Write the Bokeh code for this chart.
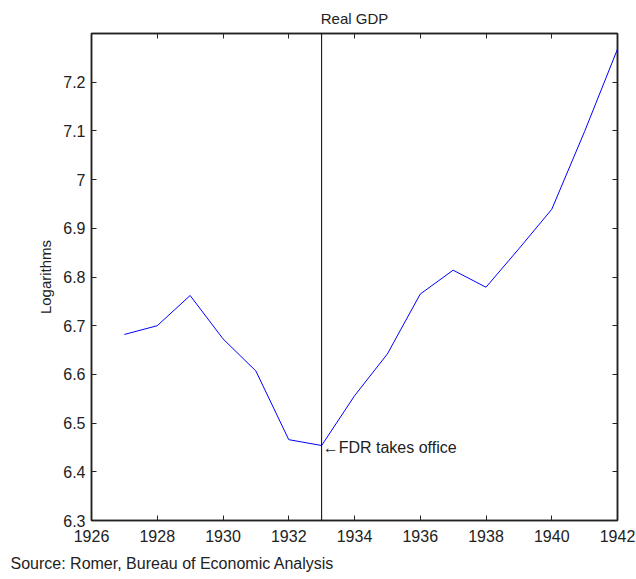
from bokeh.plotting import figure
from bokeh.models import Span, Label, Title, FixedTicker, LinearAxis, Range1d, CustomJSTickFormatter
from bokeh.embed import file_html
from bokeh.resources import INLINE

# Data
years = [1927, 1928, 1929, 1930, 1931, 1932, 1933, 1934, 1935, 1936, 1937, 1938, 1939, 1940, 1941, 1942]
log_gdp = [6.682, 6.700, 6.762, 6.673, 6.607, 6.466, 6.454, 6.556, 6.642, 6.765, 6.814, 6.779, 6.858, 6.939, 7.099, 7.268]
x_ticks = [1926, 1928, 1930, 1932, 1934, 1936, 1938, 1940, 1942]
y_ticks = [6.3, 6.4, 6.5, 6.6, 6.7, 6.8, 6.9, 7.0, 7.1, 7.2]
event_year = 1933
event_value = 6.454
event_text = "\u2190FDR takes office"
title_text = "Real GDP"
y_label = "Logarithms"
source_text = "Source: Romer, Bureau of Economic Analysis"

FONT = "Liberation Sans"
INK = "#222222"

p = figure(width=636, height=579, output_backend="svg", toolbar_location=None,
           x_range=Range1d(1926, 1942), y_range=Range1d(6.3, 7.3),
           min_border_left=91, min_border_right=19, min_border_top=33, min_border_bottom=59)

p.title.text = title_text
p.title.align = "center"
p.title.vertical_align = "top"
p.title.text_font = FONT
p.title.text_font_size = "15px"
p.title.text_font_style = "normal"
p.title.text_color = INK
p.title.standoff = 10

p.line(years, log_gdp, line_color="#0000FF", line_width=1)

p.add_layout(Span(location=event_year, dimension="height", line_color="black", line_width=1))
p.add_layout(Label(x=event_year, y=event_value, text=event_text, text_font=FONT, text_font_size="16px",
                   text_baseline="middle", text_align="left", text_color=INK, x_offset=1, y_offset=-2))

fmt = CustomJSTickFormatter(code="return String(Number(tick.toFixed(1)));")
blank = CustomJSTickFormatter(code="return '';")

p.xgrid.visible = False
p.ygrid.visible = False
p.outline_line_color = INK
p.outline_line_width = 1.5

for ax in (p.xaxis[0], p.yaxis[0]):
    ax.major_tick_in = 5
    ax.major_tick_out = 0
    ax.minor_tick_in = 0
    ax.minor_tick_out = 0
    ax.axis_line_color = INK
    ax.axis_line_width = 1.5
    ax.major_tick_line_color = INK
    ax.major_label_text_font = FONT
    ax.major_label_text_font_size = "16px"
    ax.major_label_text_color = INK

p.xaxis[0].major_label_standoff = 9
p.yaxis[0].major_label_standoff = 6
p.xaxis[0].ticker = FixedTicker(ticks=x_ticks)
p.yaxis[0].ticker = FixedTicker(ticks=y_ticks)
p.yaxis[0].formatter = fmt
p.yaxis[0].axis_label = y_label
p.yaxis[0].axis_label_text_font = FONT
p.yaxis[0].axis_label_text_font_size = "15px"
p.yaxis[0].axis_label_text_font_style = "normal"
p.yaxis[0].axis_label_text_color = INK
p.yaxis[0].axis_label_standoff = 6

# mirrored ticks on top and right (box style)
for loc, tick in (("right", y_ticks), ("above", x_ticks)):
    ax = LinearAxis(ticker=FixedTicker(ticks=tick), formatter=blank, major_tick_in=5, major_tick_out=0,
                    minor_tick_in=0, minor_tick_out=0, major_label_standoff=0,
                    axis_line_color=INK, axis_line_width=1.5, major_tick_line_color=INK)
    p.add_layout(ax, loc)

p.add_layout(Title(text=source_text, align="left", offset=-81, text_font=FONT, text_font_size="16px",
                   text_font_style="normal", text_color=INK, standoff=16), "below")

open("out.html", "w").write(file_html(p, INLINE))
